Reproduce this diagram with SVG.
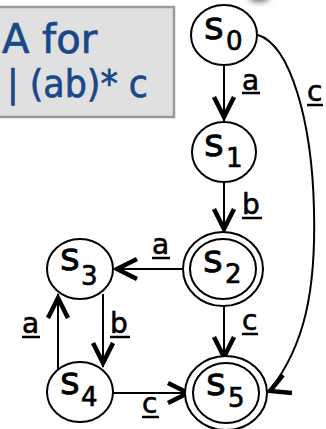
<svg xmlns="http://www.w3.org/2000/svg" width="326" height="429" viewBox="0 0 326 429">
  <style>
    .state { fill: #ffffff; stroke: #000000; stroke-width: 2; }
    .ring { fill: none; stroke: #000000; stroke-width: 2; }
    .sym { font-family: "DejaVu Sans", "Liberation Sans", sans-serif; fill: #000000; stroke: #000000; stroke-width: 0.7; }
    .s { font-size: 38px; }
    .sub { font-size: 26px; }
    .edge { fill: none; stroke: #000000; stroke-width: 2; }
    .head { fill: none; stroke: #000000; stroke-width: 4.5; stroke-linejoin: miter; stroke-linecap: butt; }
    .lbl { font-family: "DejaVu Sans", "Liberation Sans", sans-serif; font-size: 28px; fill: #000000; stroke: #000000; stroke-width: 0.6; }
    .ul { stroke: #000000; stroke-width: 2.5; }
    .title { font-family: "DejaVu Sans", "Liberation Sans", sans-serif; fill: #17498a; stroke: #17498a; stroke-width: 0.7; }
  </style>
  <defs>
    <marker id="chev" viewBox="-26 -14 30 28" markerWidth="30" markerHeight="28" refX="0" refY="0" markerUnits="userSpaceOnUse" orient="auto">
      <path class="head" d="M-24,-10 L-4,0 L-24,10"/>
    </marker>
    <filter id="soft" x="-50%" y="-50%" width="200%" height="200%">
      <feGaussianBlur stdDeviation="3"/>
    </filter>
  </defs>

  <rect width="326" height="429" fill="#ffffff"/>

  <!-- faint smudge above the start state -->
  <ellipse cx="259" cy="-3" rx="10" ry="5" fill="#666666" filter="url(#soft)"/>

  <!-- caption box -->
  <g id="caption">
    <rect x="-6" y="7" width="180" height="110" fill="#e0e0e0" stroke="#9a9a9a" stroke-width="2.5"/>
    <text class="title" x="2" y="53" font-size="40">A for</text>
    <text class="title" x="7" y="97" font-size="37" textLength="141" lengthAdjust="spacingAndGlyphs">| (ab)* c</text>
  </g>

  <!-- transitions -->
  <g id="edges">
    <path class="edge" d="M224,65 L224,121" marker-end="url(#chev)"/>
    <path class="edge" d="M224,183 L224,233" marker-end="url(#chev)"/>
    <path class="edge" d="M183,269 L113,269" marker-end="url(#chev)"/>
    <path class="edge" d="M224,306 L224,361" marker-end="url(#chev)"/>
    <path class="edge" d="M103,294 L103,367" marker-end="url(#chev)"/>
    <path class="edge" d="M58,370 L58,294" marker-end="url(#chev)"/>
    <path class="edge" d="M113,393 L192,393" marker-end="url(#chev)"/>
    <path class="edge" d="M258,35 C290,45 312,120 314,210 C316,290 305,345 270,390"/>
    <path class="head" d="M292,393 L270,391 L283,375"/>

    <g id="edge-labels">
      <text class="lbl" x="242" y="90">a</text>
      <line class="ul" x1="242" y1="93" x2="260" y2="93"/>
      <text class="lbl" x="242" y="214">b</text>
      <line class="ul" x1="242" y1="218" x2="262" y2="218"/>
      <text class="lbl" x="152" y="254">a</text>
      <line class="ul" x1="152" y1="258" x2="170" y2="258"/>
      <text class="lbl" x="242" y="330">c</text>
      <line class="ul" x1="242" y1="334" x2="258" y2="334"/>
      <text class="lbl" x="110" y="333">b</text>
      <line class="ul" x1="110" y1="337" x2="130" y2="337"/>
      <text class="lbl" x="22" y="333">a</text>
      <line class="ul" x1="22" y1="337" x2="40" y2="337"/>
      <text class="lbl" x="142" y="413">c</text>
      <line class="ul" x1="142" y1="417" x2="159" y2="417"/>
      <text class="lbl" x="307" y="101">c</text>
      <line class="ul" x1="307" y1="105" x2="323" y2="105"/>
    </g>
  </g>

  <!-- states -->
  <g id="s0">
    <ellipse class="state" cx="224" cy="35" rx="33" ry="30"/>
    <text class="sym s" x="204" y="39">s</text>
    <text class="sym sub" x="226" y="50">0</text>
  </g>
  <g id="s1">
    <ellipse class="state" cx="224" cy="152" rx="32" ry="30"/>
    <text class="sym s" x="204" y="156">s</text>
    <text class="sym sub" x="226" y="167">1</text>
  </g>
  <g id="s2">
    <ellipse class="state" cx="223" cy="269" rx="40" ry="37"/>
    <ellipse class="ring" cx="223" cy="269" rx="33" ry="30"/>
    <text class="sym s" x="203" y="272">s</text>
    <text class="sym sub" x="225" y="283">2</text>
  </g>
  <g id="s3">
    <ellipse class="state" cx="80" cy="269" rx="33" ry="30"/>
    <text class="sym s" x="60" y="270">s</text>
    <text class="sym sub" x="81" y="285">3</text>
  </g>
  <g id="s4">
    <ellipse class="state" cx="80" cy="392" rx="33" ry="30"/>
    <text class="sym s" x="60" y="394">s</text>
    <text class="sym sub" x="81" y="406">4</text>
  </g>
  <g id="s5">
    <ellipse class="state" cx="226" cy="393" rx="41" ry="37"/>
    <ellipse class="ring" cx="226" cy="393" rx="33" ry="30"/>
    <text class="sym s" x="206" y="395">s</text>
    <text class="sym sub" x="228" y="407">5</text>
  </g>
</svg>
